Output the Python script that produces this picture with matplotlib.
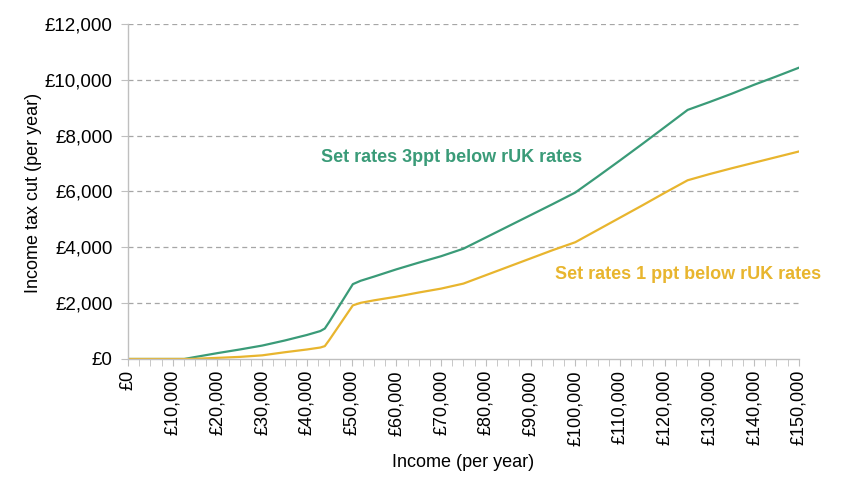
import numpy as np
import matplotlib
matplotlib.use("Agg")
import matplotlib.pyplot as plt
from matplotlib.ticker import MultipleLocator, FuncFormatter

plt.rcParams['font.family'] = ['Liberation Sans', 'DejaVu Sans']

# income (per year) and tax cut for each scenario
income_3ppt = [0, 12570, 15000, 20000, 25000, 30000, 35000, 40000, 43000, 44000,
               45000, 50270, 52000, 55000, 60000, 65000, 70000, 75000, 80000, 85000,
               90000, 95000, 100000, 105000, 110000, 115000, 120000, 125140, 130000,
               135000, 140000, 145000, 150000]
cut_3ppt = [0, 0, 70, 210, 340, 480, 660, 860, 1000, 1090,
            1330, 2680, 2800, 2950, 3210, 3450, 3680, 3950, 4350, 4750,
            5150, 5550, 5960, 6530, 7110, 7700, 8300, 8920, 9200,
            9500, 9820, 10120, 10430]

income_1ppt = [0, 14000, 20000, 25000, 30000, 35000, 40000, 43000, 44000,
               45000, 50270, 52000, 55000, 60000, 65000, 70000, 75000, 80000, 85000,
               90000, 95000, 100000, 105000, 110000, 115000, 120000, 125140, 130000,
               135000, 140000, 145000, 150000]
cut_1ppt = [0, 0, 40, 75, 130, 240, 340, 410, 460,
            680, 1920, 2010, 2100, 2230, 2380, 2520, 2700, 3000, 3300,
            3600, 3900, 4180, 4620, 5060, 5500, 5950, 6400, 6620,
            6830, 7030, 7230, 7430]

green = "#3A9B78"
yellow = "#E8B52E"
grey = "#BFBFBF"

fig = plt.figure(figsize=(8.48, 4.78), dpi=100)
ax = fig.add_axes([0.151, 0.249, 0.791, 0.701])

ax.plot(income_3ppt, cut_3ppt, color=green, lw=1.6, solid_joinstyle='round')
ax.plot(income_1ppt, cut_1ppt, color=yellow, lw=1.6, solid_joinstyle='round')

ax.set_xlim(0, 150000)
ax.set_ylim(0, 12000)

ax.yaxis.set_major_locator(MultipleLocator(2000))
ax.yaxis.set_major_formatter(FuncFormatter(lambda v, p: f"£{v:,.0f}"))
ax.xaxis.set_major_locator(MultipleLocator(10000))
ax.xaxis.set_minor_locator(MultipleLocator(2500))
ax.xaxis.set_major_formatter(FuncFormatter(lambda v, p: f"£{v:,.0f}"))

for v in range(2000, 12001, 2000):
    ax.axhline(v, color="#A6A6A6", lw=0.9, ls=(0, (4, 3)), zorder=0)

for s in ["top", "right"]:
    ax.spines[s].set_visible(False)
for s in ["left", "bottom"]:
    ax.spines[s].set_color(grey)
    ax.spines[s].set_linewidth(1.0)

ax.tick_params(axis='y', which='both', length=5, color=grey, labelsize=13.5,
               pad=6, labelcolor="#000000")
ax.tick_params(axis='x', which='both', length=5, color=grey, labelsize=13,
               pad=3, labelrotation=90)
for lab in ax.get_xticklabels():
    lab.set_va('top')
    lab.set_ha('center')

ax.set_xlabel("Income (per year)", fontsize=13, labelpad=6)
ax.set_ylabel("Income tax cut (per year)", fontsize=13)
ax.yaxis.set_label_coords(-0.128, 0.497)

ax.text(72300, 7200, "Set rates 3ppt below rUK rates", color=green,
        fontsize=13, fontweight='bold', ha='center', va='center')
ax.text(95500, 3010, "Set rates 1 ppt below rUK rates", color=yellow,
        fontsize=13, fontweight='bold', ha='left', va='center', clip_on=False)

fig.savefig("out.png", dpi=100)
